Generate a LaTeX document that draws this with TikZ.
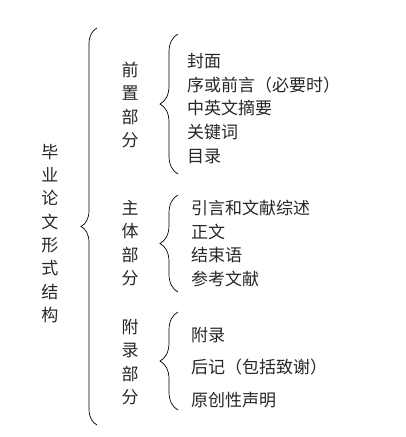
\documentclass[tikz,border=0pt]{standalone}
\usepackage{fontspec}
\setmainfont{Noto Sans CJK SC}
\usetikzlibrary{decorations.pathreplacing,positioning}

\begin{document}
\begin{tikzpicture}[x=1pt,y=-1pt,
  every node/.style={inner sep=0pt,text=black!85},
  title/.style={align=center,font=\fontsize{17}{23.3}\selectfont},
  part/.style={align=center,font=\fontsize{17}{23.3}\selectfont},
  items/.style={align=left,anchor=west,font=\fontsize{17}{23.7}\selectfont},
  gapitems/.style={items,font=\fontsize{17}{32.5}\selectfont},
  bigbrace/.style={decorate,decoration={brace,amplitude=16pt},line width=.7pt},
  smallbrace/.style={decorate,decoration={brace,amplitude=18pt},line width=.7pt}]

    \useasboundingbox (0,0) rectangle (406,437);

    % whole structure
    \node[title](thesis) at (50,233.5){毕\\业\\论\\文\\形\\式\\结\\构};
    \coordinate (bigtop) at (97,28);
    \coordinate (bigbot) at (97,425);
    \draw[bigbrace](bigbot) -- (bigtop);

    % front part
    \node[part](front) at (130,105){前\\置\\部\\分};
    \coordinate (fronttop) at (178,34);
    \coordinate (frontbot) at (178,174);
    \draw[smallbrace](frontbot) -- (fronttop);
    \node[items](frontlist) at (187,108.5){封面\\序或前言（必要时）\\中英文摘要\\关键词\\目录};

    % main part
    \node[part](body) at (130,243){主\\体\\部\\分};
    \coordinate (bodytop) at (178,195);
    \coordinate (bodybot) at (178,292);
    \draw[smallbrace](bodybot) -- (bodytop);
    \node[items](bodylist) at (191,243.5){引言和文献综述\\正文\\结束语\\参考文献};

    % appendix part
    \node[part](appx) at (130,362){附\\录\\部\\分};
    \coordinate (appxtop) at (178,312);
    \coordinate (appxbot) at (178,410);
    \draw[smallbrace](appxbot) -- (appxtop);
    \node[gapitems](appxlist) at (191,367.5){附录\\后记（包括致谢）\\原创性声明};
\end{tikzpicture}
\end{document}
